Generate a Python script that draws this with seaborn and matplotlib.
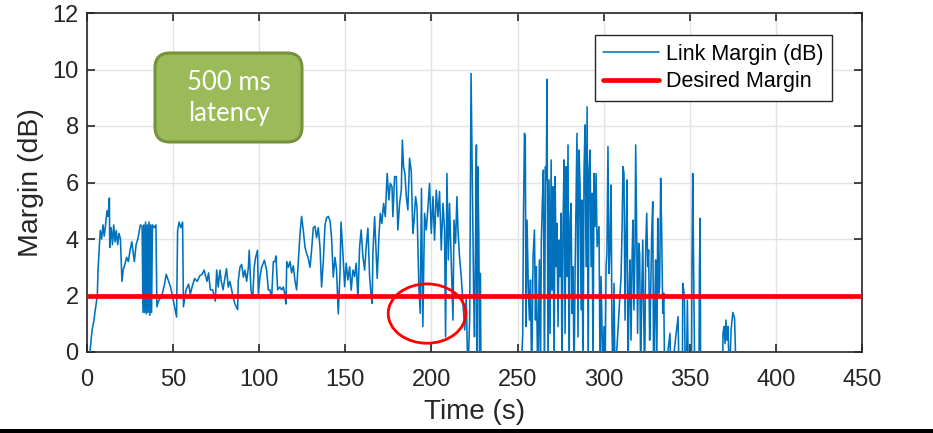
import numpy as np
import pandas as pd
import matplotlib
matplotlib.use("Agg")
import matplotlib.pyplot as plt
from matplotlib.patches import Ellipse, FancyBboxPatch, Rectangle
import seaborn as sns

# ---- link margin trace, read in segments (time in s, margin in dB; -1 = below axis) ----
t_a = [0, 1.7, 3, 4, 4.5, 6, 6.4, 7.7, 8.5, 9.3, 10.0, 10.6, 11.6, 12.3, 13, 13.2, 14, 14.8,
       15.5, 16.3, 17, 17.8, 18.6, 19.4, 20.3, 21, 22, 23, 24, 25, 26, 27.5, 28.5, 29.5, 31,
       32, 32.5, 33, 33.5, 34, 34.5, 35, 35.5, 36, 36.5, 37, 37.5, 38, 39, 40, 40.6, 41.5,
       42.5, 43.5, 45, 46, 47.4, 48.5, 49.4, 50.5, 52, 52.6, 53.5, 54.5, 55.5, 56, 57.5, 59,
       60, 61, 62.5, 64, 65.5, 66.8, 68, 69.7, 70.6, 71.6, 73, 74.5]
m_a = [-1, 0, 0.8, 1.1, 1.35, 2.0, 2.9, 4.3, 4.0, 4.5, 4.1, 4.4, 5.0, 4.8, 5.45, 3.7, 4.4, 3.8,
       4.5, 3.9, 4.3, 3.8, 4.2, 4.0, 2.5, 2.9, 3.1, 3.35, 3.2, 3.6, 3.9, 3.2, 3.8, 4.0, 4.5,
       4.45, 1.4, 4.5, 1.4, 4.6, 1.35, 4.5, 1.4, 4.6, 1.3, 4.5, 1.4, 4.5, 4.4, 4.5, 1.6, 1.8,
       1.9, 2.0, 2.4, 2.75, 2.5, 2.3, 2.05, 1.7, 1.24, 4.3, 4.6, 4.4, 4.6, 1.6, 2.2, 2.4,
       2.05, 2.3, 2.6, 2.5, 2.7, 2.75, 2.9, 2.5, 2.8, 2.2, 2.2, 1.8]

t_b = [75.3, 76.2, 77.2, 78, 79, 80, 81, 82, 83, 84, 85, 85.9, 87.5, 87.8, 88.8, 89.8, 90.8,
       91.7, 92.7, 93.7, 94.2, 95.2, 96.2, 97.1, 97.9, 99, 99.5, 100.4, 101.4, 103, 104.3,
       105.3, 106.2, 107.2, 108.2, 109.1, 109.7, 110.7, 112, 113, 114, 115, 115.5, 116, 116.9,
       117.9, 118.8, 119.8, 120.8, 121.7, 122.7, 123.7, 124.6, 125.6, 126.6, 127.5, 128.5,
       129.5, 130.4, 131.4, 132.4, 133.3, 134.3, 135.3, 136.2, 137.2, 138.2, 139.1, 140.1,
       141.1, 142, 143, 144, 144.9, 145.9, 146.9, 147.5]
m_b = [2.9, 2.3, 2.9, 2.5, 2.2, 2.6, 2.95, 2.3, 2.5, 2.2, 1.9, 1.7, 1.5, 2.5, 3.0, 3.1, 2.65,
       2.9, 2.5, 3.0, 3.6, 2.2, 1.9, 3.0, 3.35, 3.6, 2.05, 2.65, 3.0, 3.25, 2.9, 2.2, 2.2, 1.9,
       3.2, 3.2, 3.4, 2.2, 2.3, 2.2, 2.3, 2.0, 1.7, 3.2, 3.0, 3.2, 2.8, 3.05, 2.5, 2.2, 3.2,
       4.2, 4.8, 4.3, 3.7, 3.5, 3.3, 3.0, 3.6, 4.4, 4.45, 4.05, 4.4, 3.7, 2.3, 3.2, 4.5, 4.75,
       4.8, 4.65, 4.05, 2.65, 3.35, 2.9, 1.35, 2.8, 4.6]

t_c = [148.6, 149.6, 150.5, 151.5, 152.5, 153.4, 154.4, 155.4, 156.3, 157.3, 158.3, 159.2,
       160.2, 161.2, 162.1, 163.1, 164.1, 165, 165.6, 166, 167, 168, 168.5, 169.5, 170.3,
       171.2, 172.2, 173.2, 173.8, 174.3, 175.3, 176.1, 177.1, 177.6, 178.6, 179.6, 180.5,
       181.5, 182.5, 183.1, 183.8, 184.6, 185.4, 186.3, 187.3, 188.3, 189.2, 189.8, 190.8,
       191.6, 192.7, 193.5, 194.2, 195, 196, 197, 198, 198.9, 199.9, 200.9, 201.8, 202.8,
       203.8, 204.7, 205.7, 206.7, 207.6, 208.2, 209, 209.8, 210.5, 211.5, 212.5, 213.1, 214,
       214.8, 215.4, 216.3, 217.3, 218.3, 219.3, 220.2, 221.2, 222.2]
m_c = [3.49, 2.31, 3.14, 2.55, 3.02, 2.19, 2.9, 2.67, 3.14, 1.9, 3.73, 4.32, 3.37, 2.9, 3.73,
       4.38, 2.67, 1.96, 1.72, 3.49, 4.79, 3.37, 2.61, 4.08, 4.91, 4.55, 5.26, 4.79, 5.68,
       6.32, 5.38, 5.97, 5.85, 4.79, 6.21, 6.21, 4.32, 5.26, 5.73, 7.5, 6.56, 6.32, 5.5, 5.03,
       6.86, 6.38, 4.2, 4.55, 5.5, 5.14, 2.31, 1.37, 5.79, 0.9, 4.91, 4.32, 5.14, 5.97, 4.2,
       5.5, 3.96, 5.73, 4.79, 5.68, 3.61, 5.26, 4.32, 0.54, 6.32, 3.26, 5.26, 3.14, 1.13, 4.67,
       3.85, 5.5, 4.32, 3.37, 2.67, 1.72, 0.78, 1.96, -1, 1.25]

t_d = [223, 224, 224.5, 225, 225.5, 226.1, 226.5, 226.9, 227.5, 228, 228.4, 228.8, 230, 252,
       253, 253.4, 254, 254.5, 254.9, 255.5, 256.3, 256.9, 257.5, 258.2, 259, 259.8, 260.4,
       260.9, 261.7, 262.7, 263.3, 263.8, 264.4, 265, 265.6, 266.2, 266.7, 267.1, 267.7,
       268.3, 268.9, 269.5, 270, 270.6, 271.2, 271.8, 272.4, 272.9, 273.5, 274.1, 274.7,
       275.3, 275.8, 276.4, 277, 277.6, 278.2, 278.7, 279.3, 279.9, 280.5, 281.1, 281.6,
       282.2, 282.8, 283.4, 284, 284.5, 285.1, 285.7, 286.3, 286.9, 287.4, 288, 288.6, 289.2,
       289.8, 290.4, 291, 291.5, 292.1, 292.7, 293.3, 293.8, 294.4, 295, 295.6, 296.2]
m_d = [9.86, 4.79, 2.08, 0.54, 3.26, 7.33, -1, 6.56, 4.2, -1, 2.78, -1, -1, -1,
       0.66, 4.55, 7.74, 7.62, 0.9, 4.67, 2.08, 1.13, 2.55, -1, 3.37, 4.32, 1.13,
       3.02, -1, 3.26, -1, 3.91, 5.32, 6.44, -1, 6.56, 6.09, 9.65, -1,
       6.09, 0.66, 6.8, 2.19, 5.85, -1, 6.21, 3.02, 4.55, 0.9, 3.96, 2.67,
       4.91, -1, 4.44, 6.8, 0.66, 6.56, 2.67, 7.33, -1, 4.67, 5.26, 1.37,
       3.02, -1, 2.78, 5.5, 7.74, 0.54, 7.15, 5.85, 1.49, 5.38, -1, 6.44, 8.04,
       3.02, 8.68, -1, 6.44, 7.15, 3.02, 5.62, -1, 6.32, 4.44, 6.32, 3.73]

t_e = [297.3, 297.9, 298.5, 299, 299.6, 300.2, 300.8, 301.4, 301.9, 302.5, 303.1, 303.7,
       304.3, 304.8, 305.4, 306, 306.6, 310.1, 310.7, 311.2, 311.8, 312.4, 313, 313.6, 314.1,
       314.7, 315.3, 315.9, 316.5, 317, 317.6, 318.2, 318.6, 319.2, 319.7, 320.3, 320.9,
       321.5, 322.1, 322.7, 323.2, 323.8, 324.4, 325, 325.6, 326.1, 326.7, 327.3, 327.9,
       328.5, 329, 329.6, 330.2, 330.8, 331.4, 332, 332.5, 333.1, 333.7, 334.3, 334.9, 335.4,
       338.5, 339, 343.2, 343.8, 345.7, 345.9, 346.5, 346.9, 347.4, 348, 348.6, 349.2, 351,
       351.3, 351.7, 352.3, 352.9, 355.3, 355.6, 356, 356.3, 369, 369.3, 369.9, 370.5, 371,
       371.6, 372.2, 373, 374, 375, 376, 377, 380]
m_e = [4.44, -1, 2.67, 0.9, -1, 0.9, -1, 3.02, 3.49, 7.27, 2.78, 3.73, 5.91, 0.9, -1, 2.43,
       -1, 2.67, 4.44, 6.56, 6.32, 1.13, 4.2, 6.09, -1, 1.84, 3.26, 0.42, 3.37, 4.67, 1.49,
       3.73, 7.33, 3.96, 0.66, 3.85, 3.49, -1, 2.08, 3.96, 1.49, -1, 3.73, 4.91, 3.02, 3.61,
       0.42, 2.08, 4.2, 5.32, -1, 1.37, 3.26, -1, 4.73, 2.08, 2.31, 6.15, 4.2, 1.37, 2.08,
       -1, 0.66, -1, 1.25, -1, -1, 2.43, 2.19, 1.84, -1, -1, 1.84, -1, -1, 3.26, 6.32, 2.78,
       -1, -1, 2.9, 4.73, -1, -1, 0.66, 0.9, 0.3, 1.13, 0.42, 0.9, -1, 0.8, 1.4, 1.2, -1, -1]

desired_margin = 2.0
x_ticks = [0, 50, 100, 150, 200, 250, 300, 350, 400, 450]
y_ticks = [0, 2, 4, 6, 8, 10, 12]

time_s = np.concatenate([t_a, t_b, t_c, t_d, t_e])
margin_db = np.concatenate([m_a, m_b, m_c, m_d, m_e])
df = pd.DataFrame({"Time (s)": time_s, "Margin (dB)": margin_db})

sns.set_theme(style="white")
plt.rcParams["font.family"] = ["Liberation Sans", "DejaVu Sans"]

ink = "#262626"
fig = plt.figure(figsize=(9.33, 4.33), dpi=100)
ax = fig.add_axes([87 / 933, 81 / 433, 775 / 933, 339 / 433])

sns.lineplot(data=df, x="Time (s)", y="Margin (dB)", ax=ax, color="#0072BD",
             linewidth=1.15, estimator=None, sort=False, label="Link Margin (dB)", zorder=3)
ax.axhline(desired_margin, color="#FF0000", linewidth=3.4, label="Desired Margin", zorder=4)

# highlight of the dip below the desired margin
ax.add_patch(Ellipse((197.4, 1.36), 45, 2.1, fill=False, edgecolor="#FF0000",
                     linewidth=2.0, zorder=5))

ax.set_xlim(0, 450)
ax.set_ylim(0, 12)
ax.set_xticks(x_ticks)
ax.set_yticks(y_ticks)
ax.grid(True, color="#E3E3E3", linewidth=1.0)
ax.set_axisbelow(True)
for s in ax.spines.values():
    s.set_color(ink)
    s.set_linewidth(1.2)
    s.set_visible(True)
ax.tick_params(direction="in", length=5.5, width=1.2, colors=ink, labelsize=17,
               top=True, right=True, bottom=True, left=True)
ax.tick_params(axis="x", pad=12)
ax.tick_params(axis="y", pad=6)
ax.set_xlabel("Time (s)", fontsize=20, color=ink, labelpad=6)
ax.set_ylabel("Margin (dB)", fontsize=20.5, color=ink, labelpad=6)

leg = ax.legend(loc="upper right", bbox_to_anchor=(0.961, 0.935), frameon=True,
                fancybox=False, framealpha=1, fontsize=15.5, handlelength=2.6,
                handletextpad=0.3, borderpad=0.4, labelspacing=0.3, borderaxespad=0)
leg.get_frame().set_edgecolor(ink)
leg.get_frame().set_linewidth(1.0)
for txt in leg.get_texts():
    txt.set_color("black")

# annotation box
box = FancyBboxPatch((1.55, 2.91), 1.47, 0.89, boxstyle="round,pad=0,rounding_size=0.15",
                     transform=fig.dpi_scale_trans, facecolor="#9BBB59",
                     edgecolor="#76923C", linewidth=2.2, zorder=6)
fig.add_artist(box)
fig.text(2.285 / 9.33, 3.355 / 4.33, "500 ms\nlatency", ha="center", va="center",
         color="white", fontsize=18.5, family=["Lato", "DejaVu Sans"], linespacing=1.3,
         zorder=7)

# rule along the bottom edge
fig.add_artist(Rectangle((0, 0), 1, 4 / 433, transform=fig.transFigure,
                         facecolor="black", edgecolor="none"))

fig.savefig("out.png", dpi=100)
